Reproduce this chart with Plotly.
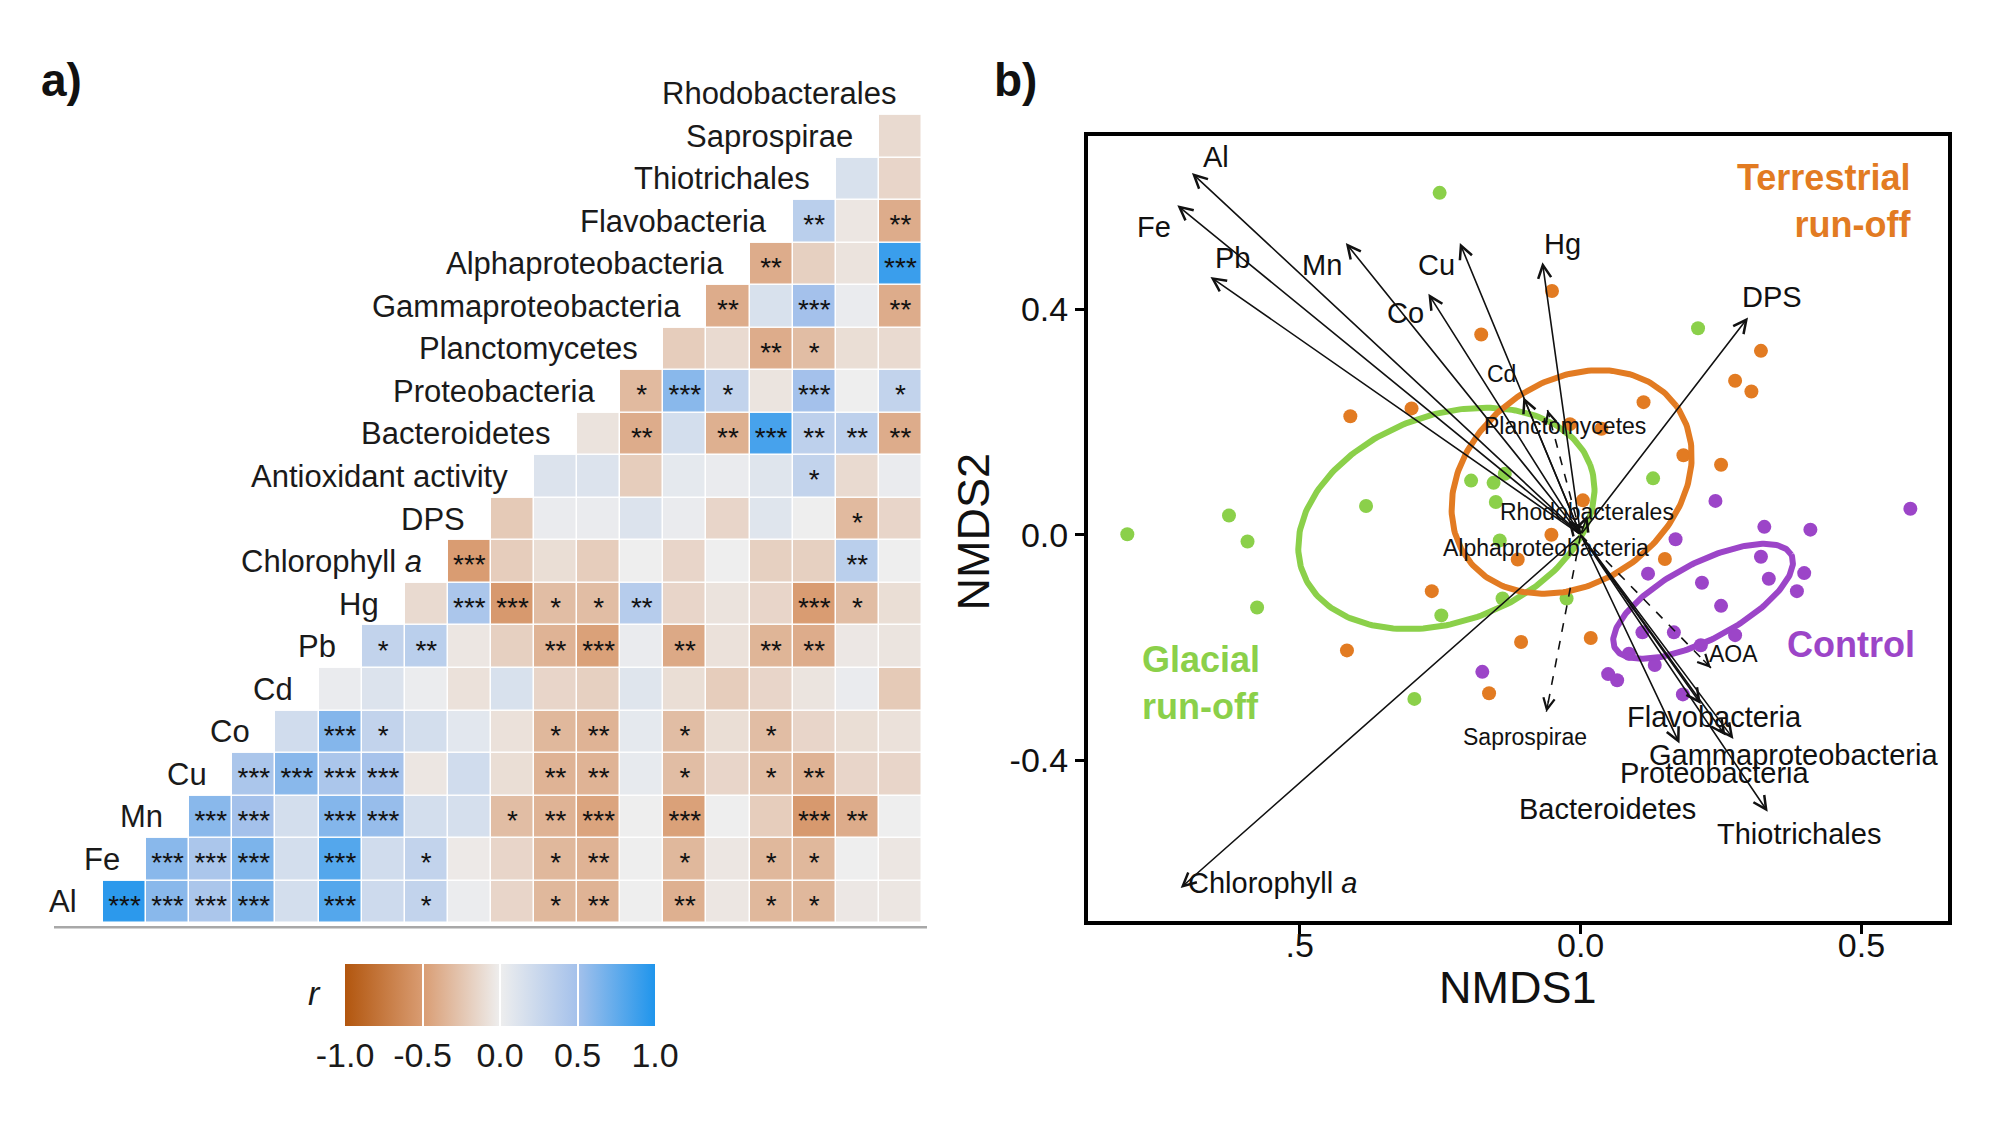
import numpy as np
import plotly.graph_objects as go

W, H = 2008, 1128
FONT = "Arial, Liberation Sans, sans-serif"

# ---------------- panel a: correlation matrix ----------------
row_labels = ["Al", "Fe", "Mn", "Cu", "Co", "Cd", "Pb", "Hg", "Chlorophyll <i>a</i>", "DPS",
              "Antioxidant activity", "Bacteroidetes", "Proteobacteria", "Planctomycetes",
              "Gammaproteobacteria", "Alphaproteobacteria", "Flavobacteria", "Thiotrichales",
              "Saprospirae", "Rhodobacterales"]

# each row i (1-based) holds columns i..19
r_rows = [
    [0.95, 0.6, 0.45, 0.65, 0.18, 0.8, 0.22, 0.3, 0.02, -0.15, -0.33, -0.36, 0.0, -0.38, -0.05, -0.33, -0.33, -0.04, -0.05],
    [0.6, 0.45, 0.65, 0.18, 0.8, 0.2, 0.3, -0.03, -0.15, -0.33, -0.36, 0.0, -0.33, -0.05, -0.33, -0.33, 0.0, -0.05],
    [0.6, 0.5, 0.18, 0.62, 0.55, 0.18, 0.17, -0.3, -0.36, -0.45, 0.0, -0.47, 0.0, -0.2, -0.52, -0.4, 0.0],
    [0.45, 0.6, 0.45, 0.48, -0.05, 0.2, -0.1, -0.36, -0.36, 0.05, -0.3, -0.15, -0.3, -0.36, -0.15, -0.15],
    [0.2, 0.62, 0.3, 0.18, 0.08, -0.08, -0.33, -0.36, 0.06, -0.3, -0.1, -0.3, -0.15, -0.1, -0.08],
    [0.03, 0.12, 0.02, -0.08, 0.15, -0.15, -0.18, 0.1, -0.1, -0.2, -0.15, -0.06, 0.03, -0.22],
    [0.3, 0.35, -0.05, -0.18, -0.36, -0.47, 0.03, -0.42, -0.08, -0.35, -0.4, -0.04, -0.06],
    [-0.12, 0.45, -0.52, -0.3, -0.3, 0.38, -0.15, -0.07, -0.15, -0.5, -0.3, -0.1],
    [-0.5, -0.2, -0.1, -0.2, 0.0, -0.15, 0.0, -0.18, -0.18, 0.35, 0.0],
    [-0.22, 0.03, 0.03, 0.12, 0.03, -0.15, 0.1, 0.0, -0.32, -0.15],
    [0.12, 0.12, -0.2, 0.06, 0.03, 0.1, 0.3, -0.12, 0.03],
    [-0.07, -0.4, 0.18, -0.38, 0.85, 0.33, 0.33, -0.4],
    [-0.32, 0.6, 0.3, -0.06, 0.5, 0.0, 0.3],
    [-0.2, -0.12, -0.4, -0.3, -0.1, -0.12],
    [-0.4, 0.15, 0.5, 0.03, -0.4],
    [-0.4, -0.18, -0.07, 0.9],
    [0.35, -0.05, -0.4],
    [0.15, -0.15],
    [-0.12],
]

sig_rows = [
    ["***", "***", "***", "***", "", "***", "", "*", "", "", "*", "**", "", "**", "", "*", "*", "", ""],
    ["***", "***", "***", "", "***", "", "*", "", "", "*", "**", "", "*", "", "*", "*", "", ""],
    ["***", "***", "", "***", "***", "", "", "*", "**", "***", "", "***", "", "", "***", "**", ""],
    ["***", "***", "***", "***", "", "", "", "**", "**", "", "*", "", "*", "**", "", ""],
    ["", "***", "*", "", "", "", "*", "**", "", "*", "", "*", "", "", ""],
    ["", "", "", "", "", "", "", "", "", "", "", "", "", ""],
    ["*", "**", "", "", "**", "***", "", "**", "", "**", "**", "", ""],
    ["", "***", "***", "*", "*", "**", "", "", "", "***", "*", ""],
    ["***", "", "", "", "", "", "", "", "", "**", ""],
    ["", "", "", "", "", "", "", "", "*", ""],
    ["", "", "", "", "", "", "*", "", ""],
    ["", "**", "", "**", "***", "**", "**", "**"],
    ["*", "***", "*", "", "***", "", "*"],
    ["", "", "**", "*", "", ""],
    ["**", "", "***", "", "**"],
    ["**", "", "", "***"],
    ["**", "", "**"],
    ["", ""],
    [""],
]

cbar_ticks = [-1.0, -0.5, 0.0, 0.5, 1.0]
cbar_ticktext = ["-1.0", "-0.5", "0.0", "0.5", "1.0"]

# ---------------- panel b: NMDS ----------------
glacial_x = [-0.251, 0.209, -0.807, -0.626, -0.593, -0.382, -0.576, -0.248, -0.296, -0.195,
             -0.155, -0.135, -0.151, 0.129, -0.144, -0.139, -0.025]
glacial_y = [0.606, 0.366, 0.001, 0.034, -0.012, 0.051, -0.129, -0.143, -0.291, 0.096,
             0.092, 0.108, 0.058, 0.100, -0.010, -0.113, -0.113]
terr_x = [-0.051, -0.177, 0.321, 0.275, 0.304, -0.301, -0.41, 0.112, -0.019, 0.037, 0.183,
          0.25, 0.004, -0.052, -0.112, 0.150, -0.265, -0.416, -0.106, 0.018, -0.163]
terr_y = [0.432, 0.355, 0.326, 0.273, 0.254, 0.224, 0.21, 0.235, 0.196, 0.188, 0.141,
          0.124, 0.061, 0.0, -0.044, -0.043, -0.1, -0.205, -0.19, -0.183, -0.281]
ctrl_x = [0.240, 0.587, 0.327, 0.409, 0.169, 0.321, 0.398, 0.335, 0.385, 0.120, 0.216,
          0.250, 0.110, 0.166, 0.275, 0.086, 0.132, 0.049, 0.065, 0.182, -0.175, 0.214]
ctrl_y = [0.060, 0.046, 0.014, 0.009, -0.008, -0.039, -0.068, -0.078, -0.100, -0.069, -0.085,
          -0.126, -0.173, -0.173, -0.178, -0.211, -0.231, -0.247, -0.258, -0.283, -0.243, -0.196]

# ellipses: centre x, centre y, semi-major, semi-minor, angle (deg)
ell_names = ["glacial", "terrestrial", "control"]
ell_cx = [-0.239, -0.016, 0.218]
ell_cy = [0.029, 0.0935, -0.118]
ell_a = [0.273, 0.230, 0.1774]
ell_b = [0.183, 0.179, 0.0673]
ell_ang = [20.4, 36.0, 27.8]

# fitted vectors (tips), solid
vec_names = ["Al", "Fe", "Pb", "Mn", "Cu", "Co", "Hg", "Cd", "DPS", "Chlorophyll a",
             "Rhodobacterales", "Alphaproteobacteria", "Flavobacteria", "Gammaproteobacteria",
             "Proteobacteria", "Bacteroidetes", "Thiotrichales"]
vec_x = [-0.692, -0.718, -0.659, -0.418, -0.215, -0.271, -0.068, -0.102, 0.298, -0.712,
         -0.022, 0.012, 0.214, 0.272, 0.258, 0.176, 0.333]
vec_y = [0.641, 0.584, 0.457, 0.517, 0.517, 0.427, 0.483, 0.244, 0.385, -0.626,
         0.026, 0.034, -0.300, -0.362, -0.356, -0.370, -0.491]
# dashed vectors
dvec_names = ["Planctomycetes", "Saprospirae", "AOA"]
dvec_x = [-0.059, -0.061, 0.232]
dvec_y = [0.221, -0.314, -0.236]

# vector labels
lab_text = ["Al", "Fe", "Pb", "Mn", "Cu", "Co", "Hg", "DPS", "Chlorophyll <i>a</i>",
            "Flavobacteria", "Gammaproteobacteria", "Proteobacteria", "Bacteroidetes", "Thiotrichales",
            "Cd", "Planctomycetes", "Rhodobacterales", "Alphaproteobacteria", "Saprospirae", "AOA"]
lab_x = [-0.650, -0.760, -0.620, -0.461, -0.256, -0.312, -0.032, 0.341, -0.549,
         0.239, 0.379, 0.238, 0.048, 0.389,
         -0.141, -0.028, 0.012, -0.061, -0.099, 0.272]
lab_y = [0.670, 0.546, 0.491, 0.479, 0.479, 0.393, 0.516, 0.422, -0.618,
         -0.323, -0.390, -0.423, -0.486, -0.530,
         0.285, 0.192, 0.041, -0.024, -0.358, -0.211]
lab_big = [True] * 14 + [False] * 6

x_ticks = [-0.5, 0.0, 0.5]
x_ticktext = [".5", "0.0", "0.5"]
y_ticks = [-0.4, 0.0, 0.4]
y_ticktext = ["-0.4", "0.0", "0.4"]

GREEN, ORANGE, PURPLE = "#8BD04A", "#E27B22", "#9C45C8"


def px(x):
    return x / W


def py(y):
    return 1 - y / H


fig = go.Figure()

# ---- heatmap ----
n = len(r_rows)
z = [[None] * n for _ in range(n)]
for i, row in enumerate(r_rows):
    for k, v in enumerate(row):
        z[i][i + k] = v

colorscale = [[0.0, "#B2560E"], [0.25, "#D99C72"], [0.5, "#EEEEEE"],
              [0.75, "#A4C1EB"], [1.0, "#1F95EC"]]

# cell grid geometry in pixels
HM_L, HM_R, HM_T, HM_B = 95, 914, 107, 916
CW = (HM_R - HM_L) / n
CH = (HM_B - HM_T) / n
X_EXTRA = 2   # extra columns to the left for labels
Y_EXTRA = 1   # extra row on top for the last label

fig.add_trace(go.Heatmap(
    z=z, x=list(range(1, n + 1)), y=list(range(1, n + 1)),
    zmin=-1, zmax=1, colorscale=colorscale, xgap=1.5, ygap=1.5,
    hoverongaps=False, xaxis="x", yaxis="y",
    colorbar=dict(orientation="h", x=px(492), xanchor="center", y=py(956), yanchor="top",
                  len=310, lenmode="pixels", thickness=62, thicknessmode="pixels",
                  outlinewidth=0, xpad=0, ypad=0,
                  tickvals=cbar_ticks, ticktext=cbar_ticktext,
                  tickfont=dict(size=34, family=FONT, color="#1a1a1a"),
                  ticks="inside", ticklen=62, tickwidth=1.5, tickcolor="white"),
))

STAR_SIZE = 28
star_shift = 0.21 * STAR_SIZE / CH
sx, sy, st = [], [], []
for i, row in enumerate(sig_rows):
    for k, s in enumerate(row):
        if s:
            sx.append(i + k + 1)
            sy.append(i + 1 - star_shift)
            st.append(s)
fig.add_trace(go.Scatter(x=sx, y=sy, text=st, mode="text", textposition="middle center",
                         textfont=dict(size=STAR_SIZE, family=FONT, color="#111111"),
                         xaxis="x", yaxis="y", hoverinfo="skip", showlegend=False))

annotations = []
for i, lab in enumerate(row_labels):
    annotations.append(dict(x=i + 1 - 1.05, y=i + 1, xref="x", yref="y", text=lab,
                            showarrow=False, xanchor="right", yanchor="middle",
                            font=dict(size=31, family=FONT, color="#1a1a1a")))

# ---- NMDS ----
for gx, gy, col in [(glacial_x, glacial_y, GREEN), (terr_x, terr_y, ORANGE), (ctrl_x, ctrl_y, PURPLE)]:
    fig.add_trace(go.Scatter(x=gx, y=gy, mode="markers", xaxis="x2", yaxis="y2",
                             marker=dict(size=14, color=col), showlegend=False, hoverinfo="skip"))

t = np.linspace(0, 2 * np.pi, 240)
for cx, cy, a, b, ang, col in zip(ell_cx, ell_cy, ell_a, ell_b, ell_ang, [GREEN, ORANGE, PURPLE]):
    th = np.deg2rad(ang)
    ex = cx + a * np.cos(t) * np.cos(th) - b * np.sin(t) * np.sin(th)
    ey = cy + a * np.cos(t) * np.sin(th) + b * np.sin(t) * np.cos(th)
    fig.add_trace(go.Scatter(x=ex, y=ey, mode="lines", xaxis="x2", yaxis="y2",
                             line=dict(color=col, width=6), showlegend=False, hoverinfo="skip"))

# dashed shafts
for dx, dy in zip(dvec_x, dvec_y):
    fig.add_trace(go.Scatter(x=[0, dx], y=[0, dy], mode="lines", xaxis="x2", yaxis="y2",
                             line=dict(color="#111111", width=1.6, dash="dash"),
                             showlegend=False, hoverinfo="skip"))
    annotations.append(dict(x=dx, y=dy, ax=dx * 0.93, ay=dy * 0.93, xref="x2", yref="y2",
                            axref="x2", ayref="y2", text="", showarrow=True, arrowhead=5,
                            arrowsize=1.6, arrowwidth=1.4, arrowcolor="#111111"))

for vx, vy in zip(vec_x, vec_y):
    annotations.append(dict(x=vx, y=vy, ax=0, ay=0, xref="x2", yref="y2",
                            axref="x2", ayref="y2", text="", showarrow=True, arrowhead=5,
                            arrowsize=1.6, arrowwidth=1.6, arrowcolor="#111111"))

for tx, lx, ly, big in zip(lab_text, lab_x, lab_y, lab_big):
    annotations.append(dict(x=lx, y=ly, xref="x2", yref="y2", text=tx, showarrow=False,
                            xanchor="center", yanchor="middle",
                            font=dict(size=29 if big else 23, family=FONT, color="#111111")))

# group labels
annotations += [
    dict(x=px(1905), y=py(193), xref="paper", yref="paper", text="<b>Terrestrial<br>run-off</b>",
         showarrow=False, xanchor="right", yanchor="middle", align="right",
         font=dict(size=36, family=FONT, color=ORANGE)),
    dict(x=px(1132), y=py(676), xref="paper", yref="paper", text="<b>Glacial<br>run-off</b>",
         showarrow=False, xanchor="left", yanchor="middle", align="left",
         font=dict(size=36, family=FONT, color=GREEN)),
    dict(x=px(1843), y=py(637), xref="paper", yref="paper", text="<b>Control</b>",
         showarrow=False, xanchor="center", yanchor="middle",
         font=dict(size=36, family=FONT, color=PURPLE)),
    # axis titles
    dict(x=px(1510), y=py(980), xref="paper", yref="paper", text="NMDS1", showarrow=False,
         xanchor="center", yanchor="middle", font=dict(size=45, family=FONT, color="#111111")),
    dict(x=px(966), y=py(524), xref="paper", yref="paper", text="NMDS2", showarrow=False,
         textangle=-90, xanchor="center", yanchor="middle",
         font=dict(size=45, family=FONT, color="#111111")),
    # panel letters
    dict(x=px(53), y=py(72), xref="paper", yref="paper", text="<b>a)</b>", showarrow=False,
         xanchor="center", yanchor="middle", font=dict(size=46, family=FONT, color="#111111")),
    dict(x=px(1007), y=py(72), xref="paper", yref="paper", text="<b>b)</b>", showarrow=False,
         xanchor="center", yanchor="middle", font=dict(size=46, family=FONT, color="#111111")),
    # colorbar title
    dict(x=px(306), y=py(986), xref="paper", yref="paper", text="<i>r</i>", showarrow=False,
         xanchor="center", yanchor="middle", font=dict(size=34, family=FONT, color="#1a1a1a")),
]

shapes = [dict(type="line", xref="paper", yref="paper", x0=px(46), x1=px(919), y0=py(920), y1=py(920),
               line=dict(color="#A8A8A8", width=2.5))]

fig.update_layout(
    width=W, height=H, margin=dict(l=0, r=0, t=0, b=0),
    paper_bgcolor="white", plot_bgcolor="white", showlegend=False,
    font=dict(family=FONT),
    xaxis=dict(domain=[px(HM_L - X_EXTRA * CW), px(HM_R)], range=[0.5 - X_EXTRA, n + 0.5],
               visible=False, fixedrange=True),
    yaxis=dict(domain=[py(HM_B), py(HM_T - Y_EXTRA * CH)], range=[0.5, n + 0.5 + Y_EXTRA],
               visible=False, fixedrange=True),
    xaxis2=dict(domain=[px(1080), px(1940)], range=[-0.877, 0.654], anchor="y2",
                showline=True, mirror=True, linewidth=4, linecolor="black",
                ticks="outside", ticklen=9, tickwidth=2.5, tickcolor="black",
                ticklabelstandoff=-18,
                tickvals=x_ticks, ticktext=x_ticktext, showgrid=False, zeroline=False,
                tickfont=dict(size=34, family=FONT, color="#111111")),
    yaxis2=dict(domain=[py(914), py(128)], range=[-0.685, 0.707], anchor="x2",
                showline=True, mirror=True, linewidth=4, linecolor="black",
                ticks="outside", ticklen=9, tickwidth=2.5, tickcolor="black",
                tickvals=y_ticks, ticktext=y_ticktext, showgrid=False, zeroline=False,
                tickfont=dict(size=34, family=FONT, color="#111111")),
    annotations=annotations, shapes=shapes,
)

fig.write_html("out.html")
